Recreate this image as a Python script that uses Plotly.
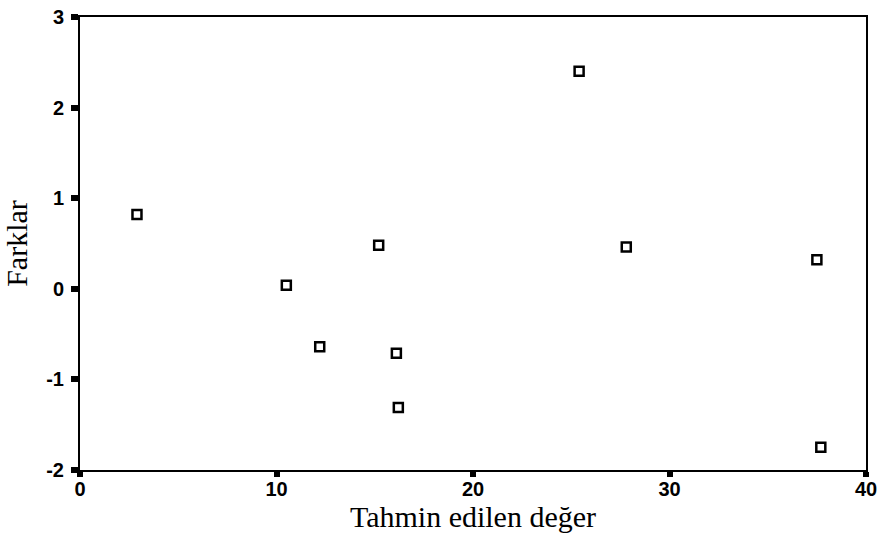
import plotly.graph_objects as go

# Predicted values (x) and residuals (y)
tahmin = [2.9, 10.5, 12.2, 15.2, 16.1, 16.2, 25.4, 27.8, 37.5, 37.7]
farklar = [0.82, 0.04, -0.64, 0.48, -0.71, -1.31, 2.40, 0.46, 0.32, -1.75]

x_ticks = [0, 10, 20, 30, 40]
y_ticks = [-2, -1, 0, 1, 2, 3]
y_ticklabels = ["-2", "-1", "0", "1", "2", "3"]

fig = go.Figure()
fig.add_trace(go.Scatter(
    x=tahmin, y=farklar, mode="markers",
    marker=dict(symbol="square-open", size=9, color="black",
                line=dict(width=2.5, color="black")),
    showlegend=False, cliponaxis=False,
))

tick_font = dict(family="Liberation Sans, Arial", size=20, color="black", weight="bold")
title_font = dict(family="Liberation Serif, Times New Roman", size=30, color="black")

axis_common = dict(
    showgrid=False, zeroline=False, showline=True, linecolor="black",
    linewidth=2, mirror=True, ticks="outside", tickcolor="black",
    tickfont=tick_font, automargin=False,
)

fig.update_layout(
    width=880, height=540,
    margin=dict(l=80, r=14, t=17, b=70),
    paper_bgcolor="white", plot_bgcolor="white",
    xaxis=dict(range=[0, 40], tickvals=x_ticks, ticklen=5, tickwidth=6,
               ticklabelstandoff=-5,
               title=dict(text="Tahmin edilen değer", standoff=2, font=title_font),
               **axis_common),
    yaxis=dict(range=[-2, 3], tickvals=y_ticks, ticktext=y_ticklabels,
               ticklen=7, tickwidth=6, ticklabelstandoff=3,
               title=dict(text="Farklar", standoff=10, font=title_font),
               **axis_common),
)

fig.write_html("out.html")
